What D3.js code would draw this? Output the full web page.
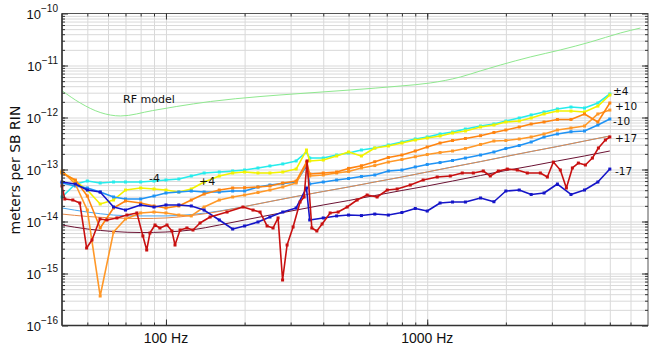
<!DOCTYPE html>
<html>
<head>
<meta charset="utf-8">
<script src="https://d3js.org/d3.v7.min.js"></script>
<style>
  body { margin: 0; background: #fff; }
  .sans { font-family: "Liberation Sans", Arial, sans-serif; }
  .dv { font-family: "DejaVu Sans", sans-serif; }
</style>
</head>
<body>
<script>
// shared frequency grid (Hz) for the measured curves
var freq = [40,45,50,56,63,70,80,90,100,112,125,140,160,180,200,225,250,280,315,345,355,400,450,500,560,630,710,800,900,1000,1120,1250,1400,1600,1800,2000,2250,2500,2800,3150,3550,4000,4500,5000];

var minus4 = [2.96e-14,5.26e-14,6.0e-14,5.5e-14,5.75e-14,5.75e-14,5.75e-14,6.0e-14,6.28e-14,6.57e-14,7.5e-14,8.56e-14,8.96e-14,9.36e-14,9.78e-14,1.07e-13,1.17e-13,1.28e-13,1.46e-13,2.17e-13,1.66e-13,1.66e-13,1.90e-13,2.08e-13,2.37e-13,2.59e-13,2.96e-13,3.38e-13,3.86e-13,4.22e-13,4.82e-13,5.26e-13,6.0e-13,6.86e-13,7.5e-13,8.56e-13,9.78e-13,1.12e-12,1.28e-12,1.46e-12,1.59e-12,1.52e-12,1.90e-12,2.83e-12];
var plus4 = [8.96e-14,6.0e-14,4.03e-14,2.17e-14,2.59e-14,4.03e-14,4.41e-14,4.22e-14,4.03e-14,3.69e-14,4.22e-14,5.75e-14,7.5e-14,8.56e-14,8.96e-14,8.56e-14,8.56e-14,8.96e-14,1.02e-13,2.37e-13,1.46e-13,1.52e-13,1.82e-13,2.17e-13,1.82e-13,2.59e-13,2.83e-13,3.23e-13,3.69e-13,4.03e-13,4.41e-13,5.03e-13,5.5e-13,6.57e-13,7.17e-13,8.2e-13,8.56e-13,9.78e-13,1.17e-12,1.33e-12,1.33e-12,1.28e-12,1.66e-12,2.71e-12];
var plus10 = [8.56e-14,6.28e-14,3.09e-14,7.5e-15,1.82e-14,2.48e-14,2.27e-14,1.99e-14,1.82e-14,1.99e-14,2.59e-14,3.38e-14,4.03e-14,4.41e-14,4.47e-14,4.61e-14,4.82e-14,5.5e-14,6.0e-14,1.39e-13,8.2e-14,8.56e-14,8.96e-14,1.05e-13,1.18e-13,1.41e-13,1.70e-13,1.90e-13,2.27e-13,2.71e-13,3.23e-13,3.61e-13,3.95e-13,4.47e-13,5.15e-13,5.75e-13,6.57e-13,7.5e-13,8.2e-13,9.15e-13,9.15e-13,1.17e-12,8.2e-13,1.90e-12];
var plus10b = [9.36e-14,5.26e-14,1.66e-14,3.69e-16,6.28e-15,1.12e-14,1.46e-14,1.52e-14,1.46e-14,1.33e-14,1.28e-14,1.90e-14,2.59e-14,2.96e-14,3.23e-14,3.61e-14,4.03e-14,4.61e-14,5.5e-14,1.28e-13,7.5e-14,7.85e-14,8.56e-14,9.15e-14,1.07e-13,1.19e-13,1.39e-13,1.56e-13,1.76e-13,1.94e-13,2.12e-13,2.27e-13,2.53e-13,3.03e-13,3.53e-13,3.61e-13,3.86e-13,4.22e-13,4.82e-13,5.75e-13,6.28e-13,6.86e-13,1.17e-12,1.39e-12];
var minus10 = [5.5e-14,4.82e-14,4.41e-14,3.69e-14,2.96e-14,2.71e-14,2.71e-14,3.09e-14,3.53e-14,3.69e-14,3.86e-14,3.69e-14,3.69e-14,3.86e-14,3.86e-14,4.61e-14,5.03e-14,5.38e-14,5.75e-14,1.17e-13,5.26e-14,5.75e-14,6.28e-14,6.71e-14,7.34e-14,7.85e-14,9.36e-14,9.78e-14,1.12e-13,1.25e-13,1.36e-13,1.49e-13,1.66e-13,1.90e-13,2.17e-13,2.53e-13,2.89e-13,3.38e-13,4.22e-13,4.82e-13,5.33e-13,5.5e-13,7.17e-13,9.36e-13];
var minus17 = [5.75e-14,5.26e-14,4.03e-14,3.69e-14,1.90e-14,1.66e-14,2.08e-14,1.90e-14,2.08e-14,2.08e-14,1.99e-14,1.66e-14,1.07e-14,7.17e-15,8.2e-15,9.78e-15,1.22e-14,1.52e-14,1.82e-14,4.41e-14,1.07e-14,1.17e-14,1.28e-14,1.33e-14,1.30e-14,1.39e-14,1.33e-14,1.49e-14,1.78e-14,1.59e-14,2.27e-14,2.37e-14,2.37e-14,2.83e-14,2.40e-14,3.86e-14,4.03e-14,3.31e-14,3.53e-14,5.26e-14,3.31e-14,4.03e-14,5.75e-14,1.02e-13];

// +17 curve has its own, denser frequency points
var plus17Freq = [40,41,44,46.8,49.7,52.1,55.9,59.4,64.9,70.9,77.4,81.6,84.4,86.8,90.8,94.8,100.9,105.4,108.3,113.2,120.3,126.9,135,147.5,171.3,197.2,215.4,229.2,243.8,257,268.6,279.5,290.8,306.6,326.1,337.8,346.9,361.6,378,396,425,456,494,539,589,643,703,767,861,965,1092,1225,1362,1501,1639,1743,1871,2025,2212,2416,2710,2883,3040,3232,3409,3594,3789,4031,4287,4521,4808,5000];
var plus17 = [4.82e-14,2.71e-14,2.59e-14,2.27e-14,3.09e-15,4.41e-15,1.12e-14,1.07e-14,1.17e-14,1.33e-14,1.46e-14,5.26e-15,2.83e-15,6.0e-15,8.56e-15,7.5e-15,8.56e-15,6.57e-15,3.53e-15,6.86e-15,7.5e-15,6.86e-15,9.36e-15,1.22e-14,1.52e-14,1.90e-14,1.66e-14,1.52e-14,8.2e-15,7.5e-15,1.17e-14,7.5e-16,3.53e-15,7.85e-15,2.37e-14,2.96e-14,1.46e-13,7.5e-15,6.57e-15,8.96e-15,1.46e-14,1.52e-14,1.90e-14,2.59e-14,3.23e-14,2.96e-14,4.03e-14,4.22e-14,5.03e-14,6.28e-14,7.17e-14,7.5e-14,8.56e-14,8.56e-14,9.36e-14,7.5e-14,9.36e-14,1.02e-13,9.78e-14,8.56e-14,8.56e-14,7.17e-14,1.39e-13,9.78e-14,4.41e-14,1.07e-13,1.33e-13,1.22e-13,1.66e-13,2.59e-13,3.69e-13,4.22e-13];

// smooth model curves
var modelFreq = [40,50,63,80,100,125,160,200,250,315,400,500,630,800,1000,1250,1600,2000,2500,3150,4000,5000];
var modelBlue = [1.82e-14,1.52e-14,1.33e-14,1.28e-14,1.28e-14,1.36e-14,1.59e-14,1.94e-14,2.42e-14,3.03e-14,3.78e-14,4.61e-14,5.75e-14,7.17e-14,8.96e-14,1.12e-13,1.42e-13,1.78e-13,2.22e-13,2.77e-13,3.53e-13,4.41e-13];
var modelOrange = [1.39e-14,1.25e-14,1.17e-14,1.14e-14,1.17e-14,1.30e-14,1.56e-14,1.94e-14,2.42e-14,3.03e-14,3.78e-14,4.61e-14,5.75e-14,7.17e-14,8.96e-14,1.12e-13,1.42e-13,1.78e-13,2.22e-13,2.77e-13,3.53e-13,4.41e-13];
var modelMaroon = [8.56e-15,7.17e-15,6.42e-15,6.14e-15,6.28e-15,6.86e-15,8.56e-15,1.07e-14,1.33e-14,1.66e-14,2.08e-14,2.53e-14,3.16e-14,3.95e-14,4.82e-14,6.0e-14,7.67e-14,9.57e-14,1.17e-13,1.46e-13,1.82e-13,2.27e-13];

var rfFreq = [40,47,56,67,89,110,148,229,326,507,788,1027,1338,1596,1904,2480,3232,4212,5489,6550];
var rfModel = [3.28e-12,1.90e-12,1.25e-12,1.07e-12,1.36e-12,1.63e-12,2.03e-12,2.53e-12,2.89e-12,3.38e-12,4.03e-12,4.61e-12,6.0e-12,7.85e-12,1.02e-11,1.46e-11,1.99e-11,2.83e-11,4.22e-11,5.26e-11];

var xMajor = [100, 1000];
var yExponents = [-16,-15,-14,-13,-12,-11,-10];
var endLabels = ["\u00b14", "+10", "-10", "+17", "-17"];

var W = 650, H = 347;
var px0 = 62, px1 = 648, py0 = 13.5, py1 = 325.5;

var svg = d3.select("body").append("svg")
  .attr("width", W)
  .attr("height", H);

var x = d3.scaleLog().domain([40, 7000]).range([px0, px1]);
var y = d3.scaleLog().domain([1e-16, 1e-10]).range([py1, py0]);

// minor positions for grid/ticks
var xMinor = [];
[10, 100, 1000].forEach(function(p){
  for (var d = 1; d <= 9; d++) {
    var v = d * p;
    if (v > 40 && v < 7000) xMinor.push(v);
  }
});
var yMinor = [];
yExponents.forEach(function(e){
  for (var d = 1; d <= 9; d++) {
    var v = d * Math.pow(10, e);
    if (v > 1e-16 && v < 1e-10) yMinor.push(v);
  }
});
var yMajor = yExponents.map(function(e){ return Math.pow(10, e); });

// grid
svg.append("g")
  .attr("transform", "translate(0," + py1 + ")")
  .call(d3.axisBottom(x).tickValues(xMinor).tickSize(-(py1 - py0)).tickFormat(""))
  .call(function(g){ g.select(".domain").remove(); })
  .selectAll("line").attr("stroke", "#d9d9d9");
svg.append("g")
  .attr("transform", "translate(" + px0 + ",0)")
  .call(d3.axisLeft(y).tickValues(yMinor).tickSize(-(px1 - px0)).tickFormat(""))
  .call(function(g){ g.select(".domain").remove(); })
  .selectAll("line").attr("stroke", "#d9d9d9");

// RF model and thin model lines
var line = function(fs){
  return d3.line()
    .x(function(d, i){ return x(fs[i]); })
    .y(function(d){ return y(d); });
};
var smooth = function(fs){
  return line(fs).curve(d3.curveMonotoneX);
};

svg.append("path").attr("d", smooth(rfFreq)(rfModel))
  .attr("fill", "none").attr("stroke", "#8fe88f").attr("stroke-width", 1);
svg.append("path").attr("d", smooth(modelFreq)(modelBlue))
  .attr("fill", "none").attr("stroke", "#4aa6ee").attr("stroke-width", 1);
svg.append("path").attr("d", smooth(modelFreq)(modelOrange))
  .attr("fill", "none").attr("stroke", "#e5894a").attr("stroke-width", 1);
svg.append("path").attr("d", smooth(modelFreq)(modelMaroon))
  .attr("fill", "none").attr("stroke", "#6b1233").attr("stroke-width", 1);

// measured curves
var series = [
  { f: freq, v: minus4, c: "#26ecec" },
  { f: freq, v: plus4, c: "#f2f200" },
  { f: freq, v: minus10, c: "#1f93f5" },
  { f: freq, v: plus10b, c: "#ff9828" },
  { f: freq, v: plus10, c: "#ff8410" },
  { f: freq, v: minus17, c: "#1515c8" },
  { f: plus17Freq, v: plus17, c: "#c81010" }
];

series.forEach(function(s){
  svg.append("path").attr("d", line(s.f)(s.v))
    .attr("fill", "none").attr("stroke", s.c).attr("stroke-width", 1.6)
    .attr("stroke-linejoin", "round");
  svg.append("g").selectAll("rect").data(s.v).enter().append("rect")
    .attr("x", function(d, i){ return x(s.f[i]) - 1.5; })
    .attr("y", function(d){ return y(d) - 1.5; })
    .attr("width", 3).attr("height", 3)
    .attr("fill", s.c);
});

// frame and ticks
svg.append("rect")
  .attr("x", px0).attr("y", py0)
  .attr("width", px1 - px0).attr("height", py1 - py0)
  .attr("fill", "none").attr("stroke", "#555").attr("stroke-width", 1);

function tickAxis(axis, tr, vals, size) {
  var g = svg.append("g").attr("transform", tr)
    .call(axis.tickValues(vals).tickSizeInner(size).tickSizeOuter(0).tickFormat(""));
  g.select(".domain").remove();
  g.selectAll("line").attr("stroke", "#333");
  return g;
}
tickAxis(d3.axisBottom(x), "translate(0," + py1 + ")", xMinor, -3);
tickAxis(d3.axisBottom(x), "translate(0," + py1 + ")", xMajor, -6);
tickAxis(d3.axisTop(x), "translate(0," + py0 + ")", xMinor, -3);
tickAxis(d3.axisTop(x), "translate(0," + py0 + ")", xMajor, -6);
tickAxis(d3.axisLeft(y), "translate(" + px0 + ",0)", yMinor, -3);
tickAxis(d3.axisLeft(y), "translate(" + px0 + ",0)", yMajor, -6);
tickAxis(d3.axisRight(y), "translate(" + px1 + ",0)", yMinor, -3);
tickAxis(d3.axisRight(y), "translate(" + px1 + ",0)", yMajor, -6);

svg.append("line").attr("x1", px0).attr("x2", px0).attr("y1", py0).attr("y2", py1)
  .attr("stroke", "#333").attr("stroke-width", 1.5);
svg.append("line").attr("x1", px0).attr("x2", px1).attr("y1", py1).attr("y2", py1)
  .attr("stroke", "#333").attr("stroke-width", 1.5);

// x tick labels
svg.append("g").selectAll("text").data(xMajor).enter().append("text")
  .attr("class", "sans")
  .attr("x", function(d){ return x(d); })
  .attr("y", py1 + 17.5)
  .attr("text-anchor", "middle")
  .attr("font-size", 14)
  .attr("fill", "#111")
  .text(function(d){ return d + " Hz"; });

// y tick labels 10^e
var yl = svg.append("g").selectAll("text").data(yExponents).enter().append("text")
  .attr("class", "sans")
  .attr("x", 58)
  .attr("y", function(d){ return y(Math.pow(10, d)) + 5; })
  .attr("text-anchor", "end")
  .attr("font-size", 13)
  .attr("fill", "#111");
yl.append("tspan").text("10");
yl.append("tspan").attr("dy", -7).attr("font-size", 10)
  .text(function(d){ return "\u2212" + (-d); });

// y axis title
svg.append("text")
  .attr("class", "dv")
  .attr("transform", "translate(20," + 170 + ") rotate(-90)")
  .attr("text-anchor", "middle")
  .attr("font-size", 14)
  .attr("fill", "#111")
  .text("meters per SB RIN");

// in-plot labels
var lab = svg.append("g").attr("fill", "#111");
lab.append("text").attr("class", "dv").attr("x", 123).attr("y", 103).attr("font-size", 11).text("RF model");
lab.append("text").attr("class", "dv").attr("x", 149).attr("y", 182).attr("font-size", 11).text("-4");
lab.append("text").attr("class", "dv").attr("x", 199).attr("y", 185).attr("font-size", 11).text("+4");
var endX = [613, 615, 613, 615, 615];
var endY = [95, 110, 125, 141.5, 175];
lab.selectAll(".endlab").data(endLabels).enter().append("text")
  .attr("class", "dv endlab")
  .attr("x", function(d, i){ return endX[i]; })
  .attr("y", function(d, i){ return endY[i]; })
  .attr("font-size", 10.5)
  .text(function(d){ return d; });
</script>
</body>
</html>
